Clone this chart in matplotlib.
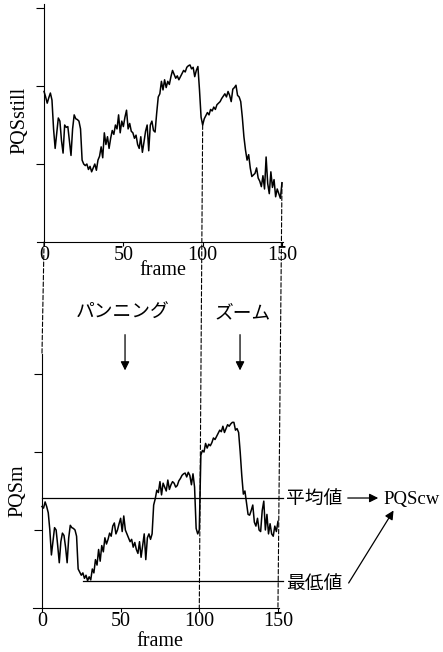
import numpy as np
from matplotlib import pyplot as plt
from matplotlib.patches import ConnectionPatch

plt.rcParams['font.family'] = ['Liberation Serif', 'Noto Sans CJK JP']
plt.rcParams['font.size'] = 14.5

frames = np.arange(151)

pqs_still = [
    1.93, 1.86, 1.78, 1.85, 1.91, 1.82, 1.45, 1.20, 1.40, 1.59,
    1.55, 1.30, 1.14, 1.50, 1.47, 1.48, 1.30, 1.11, 1.45, 1.63,
    1.58, 1.57, 1.55, 1.45, 1.05, 1.00, 0.98, 1.00, 0.93, 0.97,
    0.90, 0.95, 1.00, 0.92, 1.05, 1.10, 1.22, 1.08, 1.40, 1.25,
    1.35, 1.20, 1.33, 1.43, 1.38, 1.50, 1.45, 1.63, 1.40, 1.55,
    1.48, 1.60, 1.69, 1.45, 1.52, 1.42, 1.40, 1.33, 1.37, 1.25,
    1.20, 1.35, 1.15, 1.28, 1.42, 1.50, 1.17, 1.50, 1.55, 1.43,
    1.41, 1.65, 1.86, 1.90, 2.06, 1.95, 2.08, 1.98, 2.06, 2.02,
    2.12, 2.20, 2.15, 2.10, 2.13, 2.08, 2.12, 2.16, 2.20, 2.18,
    2.24, 2.26, 2.27, 2.22, 2.24, 2.12, 2.20, 2.25, 1.95, 1.60,
    1.50, 1.58, 1.62, 1.66, 1.63, 1.70, 1.68, 1.73, 1.70, 1.76,
    1.78, 1.80, 1.84, 1.87, 1.90, 1.86, 1.93, 1.88, 1.80, 1.96,
    1.98, 2.01, 1.88, 1.86, 1.80, 1.60, 1.35, 1.18, 1.05, 1.12,
    0.95, 0.84, 0.86, 0.88, 0.95, 0.82, 0.78, 0.71, 0.85, 0.68,
    1.09, 0.75, 0.62, 0.90, 0.70, 0.80, 0.58, 0.68, 0.62, 0.56,
    0.76,
]

pqs_m = [
    1.30, 1.28, 1.36, 1.30, 1.22, 1.00, 0.68, 0.85, 1.03, 1.00,
    0.80, 0.58, 0.85, 0.96, 0.93, 0.78, 0.58, 0.90, 1.06, 1.03,
    1.02, 1.00, 0.92, 0.50, 0.46, 0.42, 0.45, 0.38, 0.42, 0.35,
    0.40, 0.36, 0.50, 0.45, 0.62, 0.55, 0.75, 0.60, 0.80, 0.72,
    0.90, 0.82, 0.88, 0.96, 0.92, 1.05, 1.09, 0.95, 1.00, 1.08,
    1.15, 0.98, 1.18, 1.00, 0.95, 0.90, 0.85, 0.88, 0.78, 0.84,
    0.75, 0.70, 0.85, 0.65, 0.80, 0.95, 0.62, 0.90, 0.95, 0.88,
    0.95, 1.32, 1.40, 1.51, 1.48, 1.62, 1.45, 1.60, 1.55, 1.50,
    1.64, 1.52, 1.58, 1.62, 1.60, 1.55, 1.57, 1.63, 1.66, 1.70,
    1.72, 1.73, 1.68, 1.74, 1.70, 1.58, 1.72, 1.55, 1.02, 0.95,
    1.00, 1.96, 2.02, 2.00, 2.11, 2.05, 2.10, 2.08, 2.12, 2.18,
    2.16, 2.20, 2.24, 2.28, 2.26, 2.33, 2.25, 2.30, 2.35, 2.33,
    2.36, 2.38, 2.38, 2.28, 2.30, 2.25, 2.00, 1.70, 1.46, 1.50,
    1.35, 1.20, 1.19, 1.25, 1.32, 1.10, 1.05, 1.15, 1.00, 0.98,
    1.25, 1.37, 1.00, 1.20, 0.95, 1.08, 0.95, 0.92, 1.05, 0.98,
    1.11,
]

mean_level = 1.41
min_level = 0.35
min_start = 26

xticks = [0, 50, 100, 150]


def style_axes(ax):
    ax.spines['top'].set_visible(False)
    ax.spines['right'].set_visible(False)
    ax.spines['left'].set_position(('data', 0))
    ax.set_xticks(xticks)
    ax.set_yticks([1, 2, 3])
    ax.set_yticklabels([])
    ax.tick_params(axis='y', direction='out', length=6, width=0.8)
    ax.tick_params(axis='x', direction='out', length=3, width=0.8, pad=0)


fig = plt.figure(figsize=(4.43, 6.52), dpi=100)
ax1 = fig.add_axes([0.0833, 0.6288, 0.555, 0.3649])
ax2 = fig.add_axes([0.0752, 0.0675, 0.554, 0.3888])

ax1.plot(frames, pqs_still, color='black', lw=1.1)
ax1.set_xlim(-4.5, 150.5)
ax1.set_ylim(0, 3.05)
style_axes(ax1)

ax2.plot(frames, pqs_m, color='black', lw=1.1)
ax2.set_xlim(-5.5, 150.5)
ax2.set_ylim(0, 3.25)
style_axes(ax2)

fig.text(0.045, 0.816, 'PQSstill', rotation=90, ha='center', va='center')
fig.text(0.041, 0.248, 'PQSm', rotation=90, ha='center', va='center')
fig.text(0.368, 0.585, 'frame', ha='center', va='center')
fig.text(0.36, 0.016, 'frame', ha='center', va='center')

# dashed guides linking the two panels
dash = dict(color='black', lw=0.8, linestyle=(0, (4, 2)))
for x0, y_top, y_bot in [(0, 0, 3.25), (100, pqs_still[100], 0), (150, pqs_still[150], 0)]:
    con = ConnectionPatch(xyA=(x0, y_top), coordsA=ax1.transData,
                          xyB=(x0, y_bot), coordsB=ax2.transData, **dash)
    fig.add_artist(con)

# mean and minimum levels of PQSm
ax2.plot([0, 153.5], [mean_level, mean_level], color='black', lw=0.9, clip_on=False)
ax2.plot([min_start, 153.5], [min_level, min_level], color='black', lw=0.9, clip_on=False)

jp = ['Noto Sans CJK JP']
ax2.text(155, mean_level, '平均値', family=jp, ha='left', va='center', fontsize=13.5)
ax2.text(155, min_level - 0.03, '最低値', family=jp, ha='left', va='center', fontsize=13.5)
ax2.text(217.2, 1.385, 'PQScw', ha='left', va='center', fontsize=13.5)

arrow = dict(arrowstyle='-|>', color='black', lw=0.9, mutation_scale=13)
ax2.annotate('', xy=(215.5, mean_level), xytext=(192.6, mean_level),
             arrowprops=arrow, annotation_clip=False)
ax2.annotate('', xy=(224.4, 1.28), xytext=(194, 0.29),
             arrowprops=arrow, annotation_clip=False)

# camera operation labels
ax2.text(51.5, 3.79, 'パンニング', family=jp, ha='center', va='center', fontsize=13.5)
ax2.text(127.8, 3.79, 'ズーム', family=jp, ha='center', va='center', fontsize=13.5)
ax2.annotate('', xy=(52.8, 3.01), xytext=(52.8, 3.54),
             arrowprops=arrow, annotation_clip=False)
ax2.annotate('', xy=(125.9, 3.01), xytext=(125.9, 3.54),
             arrowprops=arrow, annotation_clip=False)

plt.savefig('out.png', dpi=100)
